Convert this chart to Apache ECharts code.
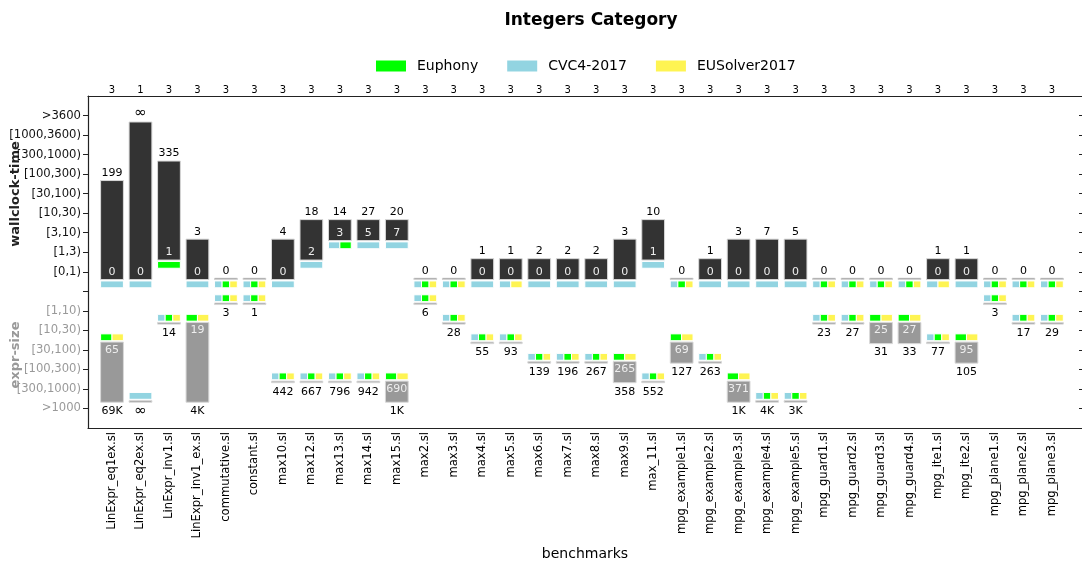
<!DOCTYPE html>
<html>
<head>
  <meta charset="utf-8">
  <title>Integers Category</title>
  <script src="https://cdn.jsdelivr.net/npm/echarts@6/dist/echarts.min.js"></script>
  <style>
    html, body { margin: 0; padding: 0; background: #fff; }
    #chart { width: 1082px; height: 566px; }
  </style>
</head>
<body>
<div id="chart"></div>
<script>
  // benchmarks
  var names = ['LinExpr_eq1ex.sl', 'LinExpr_eq2ex.sl', 'LinExpr_inv1.sl', 'LinExpr_inv1_ex.sl', 'commutative.sl',
    'constant.sl', 'max10.sl', 'max12.sl', 'max13.sl', 'max14.sl', 'max15.sl', 'max2.sl', 'max3.sl', 'max4.sl',
    'max5.sl', 'max6.sl', 'max7.sl', 'max8.sl', 'max9.sl', 'max_11.sl', 'mpg_example1.sl', 'mpg_example2.sl',
    'mpg_example3.sl', 'mpg_example4.sl', 'mpg_example5.sl', 'mpg_guard1.sl', 'mpg_guard2.sl', 'mpg_guard3.sl',
    'mpg_guard4.sl', 'mpg_ite1.sl', 'mpg_ite2.sl', 'mpg_plane1.sl', 'mpg_plane2.sl', 'mpg_plane3.sl'];
  // solvers that finished (top axis)
  var solved = [3, 1, 3, 3, 3, 3, 3, 3, 3, 3, 3, 3, 3, 3, 3, 3, 3, 3, 3, 3, 3, 3, 3, 3, 3, 3, 3, 3, 3, 3, 3, 3, 3, 3];
  // wallclock time (seconds): worst / best, and who got the best (c=CVC4, g=Euphony, y=EUSolver)
  var timeMax = [199, Infinity, 335, 3, 0, 0, 4, 18, 14, 27, 20, 0, 0, 1, 1, 2, 2, 2, 3, 10, 0, 1, 3, 7, 5, 0, 0, 0, 0, 1, 1, 0, 0, 0];
  var timeMin = [0, 0, 1, 0, 0, 0, 0, 2, 3, 5, 7, 0, 0, 0, 0, 0, 0, 0, 0, 1, 0, 0, 0, 0, 0, 0, 0, 0, 0, 0, 0, 0, 0, 0];
  var timeBest = ['c', 'c', 'g', 'c', 'cgy', 'cgy', 'c', 'c', 'cg', 'c', 'c', 'cgy', 'cgy', 'c', 'cy', 'c', 'c', 'c',
    'c', 'c', 'cgy', 'c', 'c', 'c', 'c', 'cgy', 'cgy', 'cgy', 'cgy', 'cy', 'c', 'cgy', 'cgy', 'cgy'];
  // expression size: smallest / largest, and who got the smallest
  var sizeMin = [65, Infinity, 14, 19, 3, 1, 442, 667, 796, 942, 690, 6, 28, 55, 93, 139, 196, 267, 265, 552,
    69, 263, 371, 4000, 3000, 23, 27, 25, 27, 77, 95, 3, 17, 29];
  var sizeMax = [69000, Infinity, 14, 4000, 3, 1, 442, 667, 796, 942, 1000, 6, 28, 55, 93, 139, 196, 267, 358, 552,
    127, 263, 1000, 4000, 3000, 23, 27, 31, 33, 77, 105, 3, 17, 29];
  var sizeBest = ['gy', 'c', 'cgy', 'gy', 'cgy', 'cgy', 'cgy', 'cgy', 'cgy', 'cgy', 'gy', 'cgy', 'cgy', 'cgy', 'cgy',
    'cgy', 'cgy', 'cgy', 'gy', 'cgy', 'gy', 'cgy', 'gy', 'cgy', 'cgy', 'cgy', 'cgy', 'gy', 'gy', 'cgy', 'gy',
    'cgy', 'cgy', 'cgy'];
  // y tick labels, top to bottom
  var yLabels = ['>3600', '[1000,3600)', '[300,1000)', '[100,300)', '[30,100)', '[10,30)', '[3,10)', '[1,3)', '[0,1)',
    '', '[1,10)', '[10,30)', '[30,100)', '[100,300)', '[300,1000)', '>1000'];
  var timeEdges = [1, 3, 10, 30, 100, 300, 1000, 3600];
  var sizeEdges = [10, 30, 100, 300, 1000];

  var FONT = 'DejaVu Sans';
  var fills = ['#333333', '#999999', '#00ff00', '#92d4e1', '#fef452'];
  var solverIdx = {g: 2, c: 3, y: 4};

  function bin(v, edges) {
    var b = 0;
    while (b < edges.length && v >= edges[b]) b++;
    return b;
  }
  function fmt(v) {
    if (v === Infinity) return '∞';
    if (v >= 1000) return Math.round(v / 1000) + 'K';
    return String(v);
  }

  var rects = [];  // [cat, y0, y1, from, to, fill]
  var texts = [];  // [cat, y]
  var textInfo = [];  // {t, kind}
  function strip(i, y0, y1, who) {
    for (var k = 0; k < who.length; k++) {
      rects.push([i, y0, y1, k / who.length, (k + 1) / who.length, solverIdx[who[k]]]);
    }
  }
  names.forEach(function (nm, i) {
    // wallclock part, grows upward from [0,1) (position 8)
    var tb = bin(timeMax[i], timeEdges), ib = bin(timeMin[i], timeEdges);
    var yTop = 8 - tb + 0.33;
    rects.push([i, yTop, 8 - ib + 0.4, 0, 1, 0]);
    texts.push([i, yTop]); textInfo.push({t: fmt(timeMax[i]), kind: 'above'});
    if (tb !== ib) { texts.push([i, 8 - ib]); textInfo.push({t: fmt(timeMin[i]), kind: 'inner'}); }
    strip(i, 8 - ib + 0.47, 8 - ib + 0.82, timeBest[i]);

    // expr-size part, grows downward from [1,10) (position 10)
    var s0 = bin(sizeMin[i], sizeEdges), s1 = bin(sizeMax[i], sizeEdges);
    strip(i, 10 + s0 - 0.82, 10 + s0 - 0.47, sizeBest[i]);
    var yEnd = 10 + s1 - 0.32;
    rects.push([i, 10 + s0 - 0.4, yEnd, 0, 1, 1]);
    texts.push([i, yEnd]); textInfo.push({t: fmt(sizeMax[i]), kind: 'below'});
    if (s0 !== s1) { texts.push([i, 10 + s0]); textInfo.push({t: fmt(sizeMin[i]), kind: 'inner'}); }
  });

  var tickVals = [];
  for (var v = 0; v < 16; v++) tickVals.push(v);

  var chart = echarts.init(document.getElementById('chart'));
  chart.setOption({
    animation: false,
    title: {
      text: 'Integers Category', left: 586, top: 7, textAlign: 'center',
      textStyle: {fontFamily: FONT, fontSize: 17, fontWeight: 'bold', color: '#000'}
    },
    legend: {
      left: 371, top: 54, itemWidth: 30, itemHeight: 11, itemGap: 29, icon: 'rect',
      textStyle: {fontFamily: FONT, fontSize: 14, color: '#000', padding: [0, 0, 0, 6]},
      data: ['Euphony', 'CVC4-2017', 'EUSolver2017']
    },
    grid: [
      {left: 88, right: -1, top: 96, bottom: 138},
      {left: 97.76, width: 968.4, top: 96, bottom: 138}
    ],
    xAxis: [
      {gridIndex: 0, type: 'value', min: 0, max: 1, position: 'bottom',
        axisLine: {onZero: false, lineStyle: {color: '#222', width: 1.2}}, axisTick: {show: false},
        axisLabel: {show: false}, splitLine: {show: false},
        name: 'benchmarks', nameLocation: 'middle', nameGap: 119,
        nameTextStyle: {fontFamily: FONT, fontSize: 14, color: '#000'}},
      {gridIndex: 0, type: 'value', min: 0, max: 1, position: 'top',
        axisLine: {onZero: false, lineStyle: {color: '#222', width: 1.2}}, axisTick: {show: false},
        axisLabel: {show: false}, splitLine: {show: false}},
      {gridIndex: 1, type: 'category', data: names, position: 'bottom',
        axisLine: {show: false, onZero: false},
        axisTick: {inside: true, length: 4, alignWithLabel: true, interval: 0, lineStyle: {color: '#222'}},
        axisLabel: {rotate: 90, interval: 0, margin: 4, fontFamily: FONT, fontSize: 11.6, color: '#000'}},
      {gridIndex: 1, type: 'category', data: names, position: 'top',
        axisLine: {show: false, onZero: false},
        axisTick: {inside: true, length: 4, alignWithLabel: true, interval: 0, lineStyle: {color: '#222'}},
        axisLabel: {interval: 0, margin: 1, fontFamily: FONT, fontSize: 10, color: '#000',
          formatter: function (val, idx) { return String(solved[idx]); }}}
    ],
    yAxis: [
      {gridIndex: 0, type: 'value', min: -1, max: 16, interval: 1, inverse: true, position: 'left',
        axisLine: {show: true, onZero: false, lineStyle: {color: '#222', width: 1.2}},
        axisTick: {show: true, length: 5, customValues: tickVals, lineStyle: {color: '#222'}},
        axisLabel: {
          customValues: tickVals, margin: 7,
          formatter: function (val) {
            var t = yLabels[val];
            if (!t) return '';
            return (val < 9 ? '{k|' : '{g|') + t + '}';
          },
          rich: {
            k: {fontFamily: FONT, fontSize: 11.6, color: '#111'},
            g: {fontFamily: FONT, fontSize: 11.6, color: '#999'}
          }
        },
        splitLine: {show: false}},
      {gridIndex: 0, type: 'value', min: -1, max: 16, interval: 1, inverse: true, position: 'right',
        axisLine: {show: true, onZero: false, lineStyle: {color: '#222'}},
        axisTick: {show: true, inside: true, length: 3, customValues: tickVals, lineStyle: {color: '#222'}},
        axisLabel: {show: false}, splitLine: {show: false}},
      {gridIndex: 1, type: 'value', min: -1, max: 16, inverse: true, show: false}
    ],
    graphic: [
      {type: 'text', x: 16, y: 194, rotation: Math.PI / 2,
        style: {text: 'wallclock-time', align: 'center', verticalAlign: 'middle',
          fontFamily: FONT, fontSize: 13, fontWeight: 'bold', fill: '#222'}},
      {type: 'text', x: 16, y: 355, rotation: Math.PI / 2,
        style: {text: 'expr-size', align: 'center', verticalAlign: 'middle',
          fontFamily: FONT, fontSize: 13, fontWeight: 'bold', fill: '#999'}}
    ],
    series: [
      {name: 'Euphony', type: 'bar', xAxisIndex: 2, yAxisIndex: 2, data: [], itemStyle: {color: fills[2]}},
      {name: 'CVC4-2017', type: 'bar', xAxisIndex: 2, yAxisIndex: 2, data: [], itemStyle: {color: fills[3]}},
      {name: 'EUSolver2017', type: 'bar', xAxisIndex: 2, yAxisIndex: 2, data: [], itemStyle: {color: fills[4]}},
      {
        type: 'custom', xAxisIndex: 2, yAxisIndex: 2, data: rects, silent: true,
        renderItem: function (params, api) {
          var c = api.value(0);
          var p0 = api.coord([c, api.value(1)]);
          var p1 = api.coord([c, api.value(2)]);
          var bw = api.size([1, 0])[0] * 0.8;
          var x0 = p0[0] - bw / 2 + bw * api.value(3);
          var w = bw * (api.value(4) - api.value(3));
          var f = api.value(5);
          return {
            type: 'rect',
            shape: {x: x0, y: Math.min(p0[1], p1[1]), width: w, height: Math.abs(p1[1] - p0[1])},
            style: {fill: fills[f], stroke: f < 2 ? '#d8d8d8' : '#ffffff', lineWidth: 1}
          };
        }
      },
      {
        type: 'custom', xAxisIndex: 2, yAxisIndex: 2, data: texts, silent: true,
        renderItem: function (params, api) {
          var info = textInfo[params.dataIndex];
          var p = api.coord([api.value(0), api.value(1)]);
          var va = 'middle', dy = 0, col = '#eeeeee';
          if (info.kind === 'above') { va = 'bottom'; dy = -2; col = '#000'; }
          if (info.kind === 'below') { va = 'top'; dy = 3.5; col = '#000'; }
          var isInf = info.t === '∞';
          return {
            type: 'text', x: p[0], y: p[1] + dy + (isInf ? (va === 'top' ? -2 : 1) : 0),
            style: {text: info.t, align: 'center', verticalAlign: va, fill: col,
              fontFamily: FONT, fontSize: isInf ? 15 : 11}
          };
        }
      }
    ]
  });
</script>
</body>
</html>
